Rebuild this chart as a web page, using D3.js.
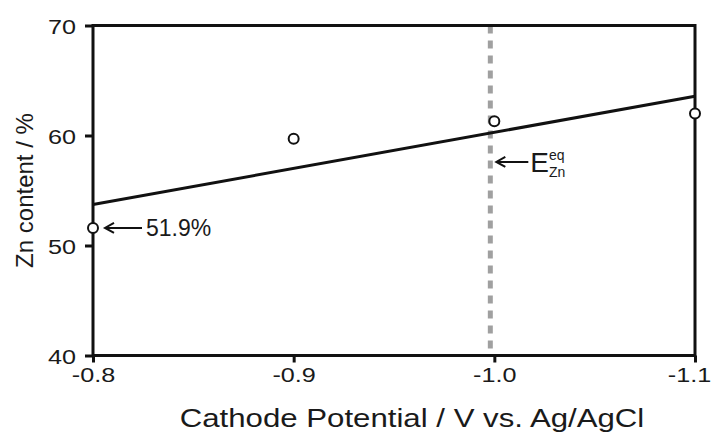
<!DOCTYPE html>
<html>
<head>
<meta charset="utf-8">
<script src="https://cdn.jsdelivr.net/npm/d3@7"></script>
<style>
  body { margin: 0; background: #fff; }
  text { font-family: "Liberation Sans", Arial, sans-serif; fill: #1a1a1a; }
</style>
</head>
<body>
<div id="chart"></div>
<script>
// Data
const potentials = [-0.8, -0.9, -1.0, -1.1];
const znContent = [51.6, 59.7, 61.3, 62.0];
const xTicks = [-0.8, -0.9, -1.0, -1.1];
const yTicks = [40, 50, 60, 70];
const eqPotential = -0.998;
const firstLabel = "51.9%";

// Text in the picture is a bit wider than plain Arial
const stretch = 1.2;

const margin = {top: 25.5, right: 17, bottom: 76.5, left: 93},
    width = 712 - margin.left - margin.right,
    height = 432 - margin.top - margin.bottom;

const svg = d3.select("#chart")
  .append("svg")
    .attr("width", width + margin.left + margin.right)
    .attr("height", height + margin.top + margin.bottom)
  .append("g")
    .attr("transform", `translate(${margin.left},${margin.top})`);

const x = d3.scaleLinear().domain([-0.8, -1.1]).range([0, width]);
const y = d3.scaleLinear().domain([40, 70]).range([height, 0]);

// Dashed equilibrium potential line
svg.append("line")
  .attr("x1", x(eqPotential)).attr("x2", x(eqPotential))
  .attr("y1", 0).attr("y2", height)
  .attr("stroke", "#a0a0a0")
  .attr("stroke-width", 5)
  .attr("stroke-dasharray", "8,7");

// X axis
const xAxis = svg.append("g")
  .attr("transform", `translate(0,${height})`)
  .call(d3.axisBottom(x).tickValues(xTicks).tickFormat(d => d.toFixed(1)).tickSize(7).tickSizeOuter(0));
xAxis.select(".domain").remove();
xAxis.selectAll("line").attr("stroke", "#111").attr("stroke-width", 3);
xAxis.selectAll("text")
  .attr("y", 12).attr("dy", "0.71em")
  .attr("x", (d, i) => i === xTicks.length - 1 ? -5 : 0)   // keep last label inside the page
  .attr("transform", `scale(${stretch},1)`)
  .style("font-size", "21px").style("fill", "#1a1a1a");

// Y axis
const yAxis = svg.append("g")
  .call(d3.axisLeft(y).tickValues(yTicks).tickSize(8).tickSizeOuter(0));
yAxis.select(".domain").remove();
yAxis.selectAll("line").attr("stroke", "#111").attr("stroke-width", 3);
yAxis.selectAll("text")
  .attr("x", -17 / stretch).attr("dy", "0.36em")
  .attr("transform", `scale(${stretch},1)`)
  .style("font-size", "21px").style("fill", "#1a1a1a");

// Frame
svg.append("rect")
  .attr("width", width).attr("height", height)
  .attr("fill", "none").attr("stroke", "#111").attr("stroke-width", 3);

// Linear fit of the points
const mx = d3.mean(potentials), my = d3.mean(znContent);
const slope = d3.sum(potentials, (p, i) => (p - mx) * (znContent[i] - my)) /
              d3.sum(potentials, p => (p - mx) * (p - mx));
const fit = p => my + slope * (p - mx);
svg.append("line")
  .attr("x1", x(-0.8)).attr("y1", y(fit(-0.8)))
  .attr("x2", x(-1.1)).attr("y2", y(fit(-1.1)))
  .attr("stroke", "#111").attr("stroke-width", 3);

// Points
svg.selectAll("circle.pt")
  .data(potentials)
  .join("circle")
    .attr("class", "pt")
    .attr("cx", d => x(d))
    .attr("cy", (d, i) => y(znContent[i]))
    .attr("r", 5)
    .attr("fill", "#fff")
    .attr("stroke", "#111")
    .attr("stroke-width", 2);

// Left-pointing arrow
function arrow(x1, x2, yy) {
  svg.append("line").attr("x1", x1).attr("x2", x2).attr("y1", yy).attr("y2", yy)
    .attr("stroke", "#111").attr("stroke-width", 2);
  svg.append("path")
    .attr("d", `M${x1 + 9},${yy - 5}L${x1},${yy}L${x1 + 9},${yy + 5}`)
    .attr("fill", "none").attr("stroke", "#111").attr("stroke-width", 2);
}

// 51.9% annotation
const p0x = x(potentials[0]), p0y = y(znContent[0]);
arrow(p0x + 12, p0x + 49, p0y);
svg.append("text")
  .attr("x", p0x + 53).attr("y", p0y + 8.5)
  .style("font-size", "23px")
  .text(firstLabel);

// E_Zn^eq annotation, one text with super- and subscript
const ex = x(eqPotential), ey = y(57.6);
arrow(ex + 6, ex + 38, ey);
const eq = svg.append("text")
  .attr("x", ex + 40).attr("y", ey + 10)
  .style("font-size", "28px");
eq.append("tspan").text("E");
eq.append("tspan").attr("dx", 0).attr("dy", -12).style("font-size", "14px").text("eq");
eq.append("tspan").attr("dx", -15.6).attr("dy", 17).style("font-size", "14px").text("Zn");

// Axis titles
svg.append("text")
  .attr("transform", `translate(${412 - margin.left},${427 - margin.top}) scale(${stretch},1)`)
  .attr("text-anchor", "middle")
  .style("font-size", "26px")
  .text("Cathode Potential / V vs. Ag/AgCl");

svg.append("text")
  .attr("transform", `translate(${33 - margin.left},${height / 2}) rotate(-90)`)
  .attr("text-anchor", "middle")
  .style("font-size", "24px")
  .text("Zn content / %");
</script>
</body>
</html>
